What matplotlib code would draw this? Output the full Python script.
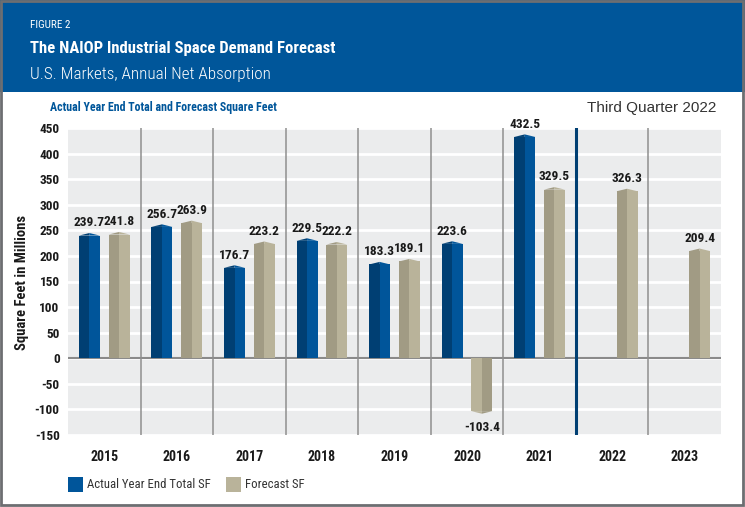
import matplotlib
matplotlib.use("Agg")
from matplotlib import pyplot as plt
from matplotlib.patches import Rectangle
import numpy as np

# chart data
years = ['2015', '2016', '2017', '2018', '2019', '2020', '2021', '2022', '2023']
actual = [239.7, 256.7, 176.7, 229.5, 183.3, 223.6, 432.5, None, None]
forecast = [241.8, 263.9, 223.2, 222.2, 189.1, -103.4, 329.5, 326.3, 209.4]
yticks = [-150, -100, -50, 0, 50, 100, 150, 200, 250, 300, 350, 400, 450]

W, H = 745, 507
COND = ['Roboto Condensed', 'DejaVu Sans']
PLAIN = ['Liberation Sans', 'DejaVu Sans']
BLUE_D, BLUE_L = '#003f73', '#00559a'
TAN_D, TAN_L = '#a19b84', '#b9b39a'
HEAD = '#00569a'
INK = '#1a1a1a'

plt.rcParams['font.family'] = COND

fig = plt.figure(figsize=(W / 100, H / 100), dpi=100, facecolor='white')

def fx(px):
    return px / W

def fy(py):
    return 1 - py / H

# header band and outer frame
fig.patches.append(Rectangle((0, fy(92)), 1, 92 / H, transform=fig.transFigure,
                             facecolor=HEAD, edgecolor='none', zorder=0))
fig.patches.append(Rectangle((fx(1), fy(505)), fx(742), 504 / H, transform=fig.transFigure,
                             facecolor='none', edgecolor='#6d6e71', linewidth=2, zorder=5))

fig.text(fx(30), fy(25), 'FIGURE 2', color='white', fontsize=8, va='center')
fig.text(fx(30), fy(49), 'The NAIOP Industrial Space Demand Forecast', color='white',
         fontsize=12, fontweight='bold', va='center')
fig.text(fx(30), fy(75), 'U.S. Markets, Annual Net Absorption', color='white',
         fontsize=12.3, fontweight='light', va='center')
fig.text(fx(50), fy(108), 'Actual Year End Total and Forecast Square Feet', color=HEAD,
         fontsize=8.6, fontweight='bold', va='center')
fig.text(fx(716), fy(108), 'Third Quarter 2022', color='#333333', family=PLAIN,
         fontsize=11, ha='right', va='center')

ax = fig.add_axes([fx(68), fy(435), fx(721 - 68), (435 - 128) / H])
ax.set_facecolor('#ebeced')
ax.set_xlim(0, len(years))
ax.set_ylim(-150, 450)

for t in yticks:
    ax.axhline(t, color='white', linewidth=2, zorder=1)
ax.axhline(0, color='#8a8a8a', linewidth=1.5, zorder=1)
for i in range(1, len(years)):
    if i == 7:
        ax.axvline(i, color=BLUE_D, linewidth=2.2, zorder=1)
    else:
        ax.axvline(i, color='#8f8f8f', linewidth=1.1, zorder=1)

w = 0.29
off = 0.205


def draw_bar(xc, v, dark, light):
    # two-tone column with a small peaked cap
    left_c, right_c = (dark, light) if v >= 0 else (light, dark)
    ax.bar(xc - w / 4, v, width=w / 2, color=left_c, zorder=3, linewidth=0)
    ax.bar(xc + w / 4, v, width=w / 2, color=right_c, zorder=3, linewidth=0)
    s = 5 if v >= 0 else -5
    ax.fill([xc - w / 2, xc, xc], [v, v + s, v], color=left_c, zorder=3, linewidth=0)
    ax.fill([xc, xc, xc + w / 2], [v, v + s, v], color=right_c, zorder=3, linewidth=0)
    ax.annotate(f'{v:.1f}', (xc, v), xytext=(0, 4.5 if v >= 0 else -7),
                textcoords='offset points', ha='center',
                va='bottom' if v >= 0 else 'top', fontsize=9.6,
                fontweight='bold', color=INK, zorder=4)


for i, yr in enumerate(years):
    c = i + 0.5
    if actual[i] is not None:
        draw_bar(c - off, actual[i], BLUE_D, BLUE_L)
    if forecast[i] is not None:
        draw_bar(c + off, forecast[i], TAN_D, TAN_L)

ax.set_yticks(yticks)
ax.set_yticklabels([str(t) for t in yticks])
ax.set_xticks(np.arange(len(years)) + 0.5)
ax.set_xticklabels(years)
ax.tick_params(length=0, colors=INK)
ax.tick_params(axis='y', labelsize=9.5, pad=6)
ax.tick_params(axis='x', labelsize=10, pad=11)
for lab in ax.get_xticklabels() + ax.get_yticklabels():
    lab.set_fontweight('bold')
for sp in ax.spines.values():
    sp.set_visible(False)

fig.text(fx(22), fy(282), 'Square Feet in Millions', rotation=90, fontsize=10.5,
         fontweight='bold', color=INK, ha='center', va='center')

# legend
fig.patches.append(Rectangle((fx(68), fy(492)), fx(15), 15 / H, transform=fig.transFigure,
                             facecolor=BLUE_L, edgecolor='none'))
fig.text(fx(87), fy(485), 'Actual Year End Total SF', fontsize=9.2, va='center', color='#333333')
fig.patches.append(Rectangle((fx(226), fy(492)), fx(15), 15 / H, transform=fig.transFigure,
                             facecolor=TAN_L, edgecolor='none'))
fig.text(fx(245), fy(485), 'Forecast SF', fontsize=9.2, va='center', color='#333333')

fig.savefig('out.png', dpi=100)
